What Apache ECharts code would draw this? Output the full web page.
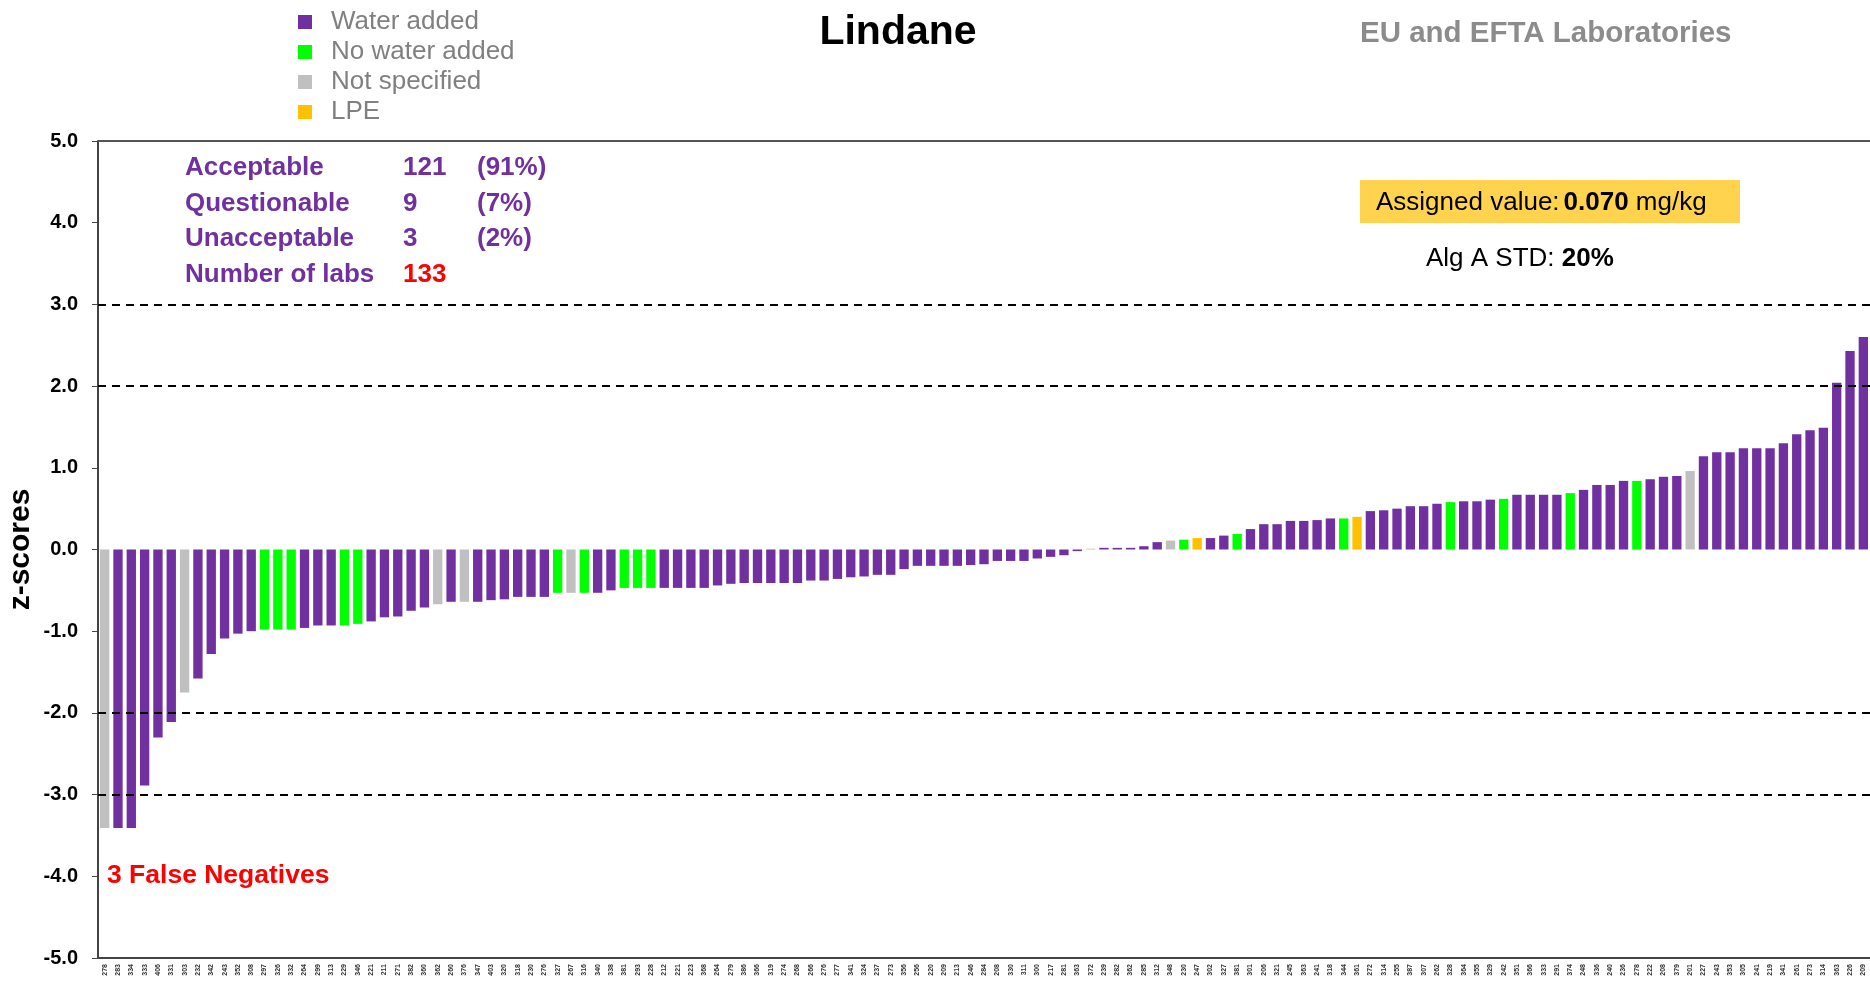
<!DOCTYPE html>
<html>
<head>
<meta charset="utf-8">
<script src="https://cdn.jsdelivr.net/npm/echarts@6/dist/echarts.min.js"></script>
<style>
    html, body {margin: 0; padding: 0; background: #fff;}
    #chart {width: 1870px; height: 985px;}
</style>
</head>
<body>
<div id="chart"></div>
<script>
// lab codes, in plot order
const labs = [
    '278','283','334','333','406','331','303','232','342','243',
    '352','308','297','326','332','264','299','313','229','346',
    '221','211','271','382','360','362','260','376','347','403',
    '320','318','230','276','327','267','316','340','338','381',
    '293','228','212','221','223','368','264','279','386','366',
    '319','274','268','266','276','277','341','324','237','273',
    '356','256','220','209','213','246','284','208','330','311',
    '300','217','281','363','372','239','282','362','285','312',
    '348','230','247','302','327','381','301','206','321','245',
    '363','241','318','344','361','272','314','255','387','307',
    '262','328','364','355','329','242','351','366','333','291',
    '374','248','336','240','236','278','222','208','379','201',
    '227','243','353','305','241','219','341','261','273','314',
    '363','226','209'
];

// z-scores
const zScores = [
    -3.41, -3.41, -3.41, -2.89, -2.30, -2.11, -1.75, -1.58, -1.28, -1.09,
    -1.03, -1.00, -0.98, -0.98, -0.98, -0.96, -0.93, -0.93, -0.93, -0.91,
    -0.88, -0.83, -0.82, -0.75, -0.71, -0.67, -0.64, -0.64, -0.64, -0.62,
    -0.61, -0.58, -0.58, -0.58, -0.53, -0.53, -0.53, -0.53, -0.50, -0.47,
    -0.47, -0.47, -0.47, -0.47, -0.47, -0.47, -0.44, -0.42, -0.41, -0.41,
    -0.41, -0.41, -0.41, -0.38, -0.38, -0.36, -0.34, -0.33, -0.31, -0.31,
    -0.24, -0.20, -0.20, -0.20, -0.20, -0.19, -0.18, -0.14, -0.14, -0.14,
    -0.11, -0.09, -0.07, -0.02, 0.01, 0.02, 0.02, 0.02, 0.04, 0.09,
    0.11, 0.12, 0.14, 0.14, 0.17, 0.19, 0.25, 0.31, 0.31, 0.35,
    0.35, 0.36, 0.38, 0.38, 0.40, 0.47, 0.48, 0.50, 0.53, 0.53,
    0.56, 0.58, 0.59, 0.59, 0.61, 0.62, 0.67, 0.67, 0.67, 0.67,
    0.69, 0.73, 0.79, 0.79, 0.84, 0.84, 0.86, 0.89, 0.90, 0.96,
    1.14, 1.19, 1.19, 1.24, 1.24, 1.24, 1.30, 1.41, 1.46, 1.49,
    2.04, 2.43, 2.60
];

// W = water added, N = no water added, U = not specified, L = LPE
const groups = [
    'U','W','W','W','W','W','U','W','W','W',
    'W','W','N','N','N','W','W','W','N','N',
    'W','W','W','W','W','U','W','U','W','W',
    'W','W','W','W','N','U','N','W','W','N',
    'N','N','W','W','W','W','W','W','W','W',
    'W','W','W','W','W','W','W','W','W','W',
    'W','W','W','W','W','W','W','W','W','W',
    'W','W','W','W','U','W','W','W','W','W',
    'U','N','L','W','W','N','W','W','W','W',
    'W','W','W','N','L','W','W','W','W','W',
    'W','N','W','W','W','N','W','W','W','W',
    'N','W','W','W','W','N','W','W','W','U',
    'W','W','W','W','W','W','W','W','W','W',
    'W','W','W'
];

const groupCodes = ['W', 'N', 'U', 'L'];
const groupNames = ['Water added', 'No water added', 'Not specified', 'LPE'];
const groupColors = ['#7030a0', '#00ff00', '#c0c0c0', '#ffc000'];

const statLabels = ['Acceptable', 'Questionable', 'Unacceptable', 'Number of labs'];
const statCounts = ['121', '9', '3', '133'];
const statShares = ['(91%)', '(7%)', '(2%)', ''];

const dashedLevels = [3, 2, -2, -3];

const FONT = '"Liberation Sans", Arial, sans-serif';
const PURPLE = '#7030a0';

let chart = echarts.init(document.getElementById('chart'));

let series = groupCodes.map((code, gi) => {
    let s = {
        name: groupNames[gi],
        type: 'bar',
        stack: 'z',
        barCategoryGap: '30%',
        itemStyle: {color: groupColors[gi]},
        data: zScores.map((v, i) => groups[i] === code ? v : '-'),
        animation: false
    };
    if (gi === 0) {
        s.markLine = {
            silent: true,
            symbol: 'none',
            label: {show: false},
            data: dashedLevels.map(v => ({
                yAxis: v,
                lineStyle: {color: '#000', type: [8, 6], width: 2}
            })).concat([{yAxis: 5, lineStyle: {color: '#555', type: 'solid', width: 2}}])
        };
    }
    return s;
});

// stats block, top left of the plot
let statsGraphics = [];
statLabels.forEach((label, i) => {
    let y = 155 + i * 35.5;
    statsGraphics.push({
        type: 'text', left: 185, top: y,
        style: {text: label, fill: PURPLE, font: 'bold 26px ' + FONT}
    });
    statsGraphics.push({
        type: 'text', left: 403, top: y,
        style: {text: statCounts[i], fill: i === 3 ? '#ff0000' : PURPLE, font: 'bold 26px ' + FONT}
    });
    if (statShares[i]) {
        statsGraphics.push({
            type: 'text', left: 477, top: y,
            style: {text: statShares[i], fill: PURPLE, font: 'bold 26px ' + FONT}
        });
    }
});

let option = {
    backgroundColor: '#fff',
    animation: false,
    legend: {
        orient: 'vertical',
        left: 293,
        top: 4,
        icon: 'rect',
        itemWidth: 14,
        itemHeight: 14,
        itemGap: 4,
        data: groupNames,
        textStyle: {color: '#808080', fontSize: 26, fontFamily: FONT, padding: [0, 0, 0, 14]}
    },
    grid: {left: 98, right: 0, top: 141, bottom: 27, outerBoundsMode: 'none', containLabel: false},
    xAxis: {
        type: 'category',
        data: labs,
        axisLine: {show: true, onZero: false, lineStyle: {color: '#444', width: 2}},
        axisTick: {show: false},
        axisLabel: {
            interval: 0,
            rotate: 90,
            fontSize: 7,
            fontWeight: 'bold',
            color: '#333',
            fontFamily: FONT,
            margin: 6
        }
    },
    yAxis: {
        type: 'value',
        min: -5,
        max: 5,
        interval: 1,
        name: 'z-scores',
        nameLocation: 'middle',
        nameRotate: 90,
        nameGap: 62,
        nameMoveOverlap: false,
        nameTextStyle: {color: '#000', fontSize: 30, fontWeight: 'bold', fontFamily: FONT},
        axisLine: {show: true, lineStyle: {color: '#444', width: 2}},
        axisTick: {show: true, length: 6, lineStyle: {color: '#444'}},
        splitLine: {show: false},
        axisLabel: {
            formatter: v => v.toFixed(1),
            color: '#000',
            fontSize: 20,
            fontWeight: 'bold',
            fontFamily: FONT,
            margin: 20
        }
    },
    graphic: [
        {
            type: 'text', x: 898, y: 12,
            style: {text: 'Lindane', fill: '#000', font: 'bold 41px ' + FONT, textAlign: 'center'}
        },
        {
            type: 'text', left: 1360, top: 19,
            style: {text: 'EU and EFTA Laboratories', fill: '#8c8c8c', font: 'bold 29.5px ' + FONT}
        },
        {
            type: 'rect', left: 1360, top: 180,
            shape: {width: 380, height: 43},
            style: {fill: '#ffd34e'}
        },
        {
            type: 'text', left: 1376, top: 190,
            style: {
                text: '{a|Assigned value:}{b|0.070}{a| mg/kg}',
                rich: {
                    a: {fill: '#000', fontSize: 26, fontFamily: FONT},
                    b: {fill: '#000', fontSize: 26, fontWeight: 'bold', fontFamily: FONT, padding: [0, 0, 0, 4]}
                }
            }
        },
        {
            type: 'text', left: 1426, top: 246,
            style: {
                text: '{a|Alg A STD: }{b|20%}',
                rich: {
                    a: {fill: '#000', fontSize: 26, fontFamily: FONT},
                    b: {fill: '#000', fontSize: 26, fontWeight: 'bold', fontFamily: FONT}
                }
            }
        },
        {
            type: 'text', left: 107, top: 862,
            style: {text: '3 False Negatives', fill: '#ff0000', font: 'bold 26.5px ' + FONT}
        }
    ].concat(statsGraphics),
    series: series
};

chart.setOption(option);
</script>
</body>
</html>
